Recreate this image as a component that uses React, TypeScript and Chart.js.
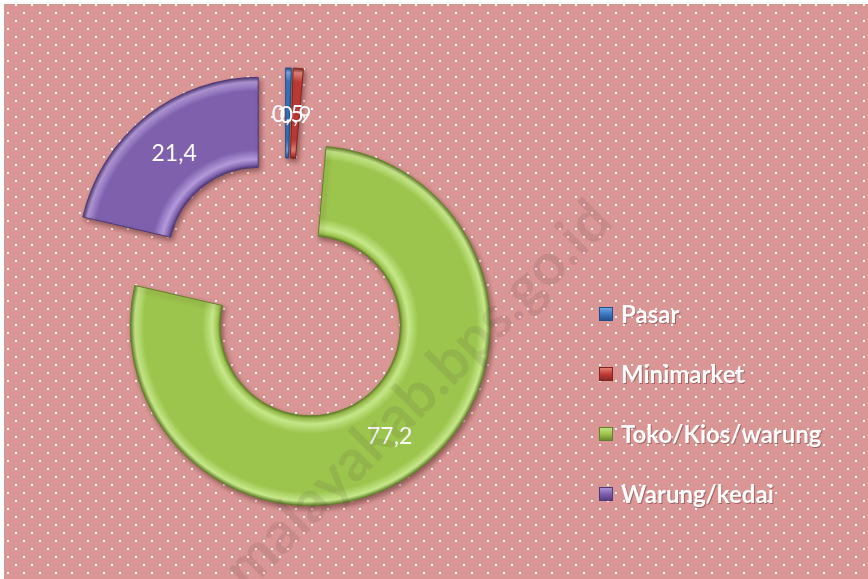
import React, { useEffect, useRef } from "react";
import { Chart, registerables } from "chart.js";

Chart.register(...registerables);

const categories = ["Pasar", "Minimarket", "Toko/Kios/warung", "Warung/kedai"];
const values = [0.5, 0.9, 77.2, 21.4];
const valueLabels = ["0,5", "0,9", "77,2", "21,4"];
const sliceColors = ["#3a77c2", "#c23b35", "#9cc54e", "#7e60ad"];
const lightColors = ["#7fb0ea", "#e98882", "#c6e88a", "#b39ada"];
const edgeColors = ["#1f4f8a", "#7e2522", "#62822a", "#4e3a78"];
const watermarkText = "malayakab.bps.go.id";

const BG = "#d99694";
const EXPLODE = 43;

const backgroundPlugin = {
  id: "bgDots",
  beforeDraw(chart: any) {
    const { ctx, width, height } = chart;
    ctx.save();
    ctx.fillStyle = BG;
    ctx.fillRect(0, 0, width, height);
    ctx.fillStyle = "#ffffff";
    let row = 0;
    for (let y = 0; y < height; y += 8, row++) {
      const start = row % 2 === 0 ? 11 : 3;
      for (let x = start; x < width; x += 16) {
        ctx.fillRect(x, y, 2, 2);
      }
    }
    ctx.restore();
  },
};

const explodePlugin = {
  id: "explodeSlices",
  beforeDatasetDraw(chart: any, args: any) {
    const ctx = chart.ctx;
    const meta = args.meta;
    meta.data.forEach((arc: any) => {
      const h = (arc.startAngle + arc.endAngle) / 2;
      ctx.save();
      ctx.shadowColor = "rgba(60,20,20,0.45)";
      ctx.shadowBlur = 5;
      ctx.shadowOffsetX = 2;
      ctx.shadowOffsetY = 3;
      ctx.translate(Math.cos(h) * EXPLODE, Math.sin(h) * EXPLODE);
      arc.draw(ctx);
      ctx.restore();
    });
    return false;
  },
  afterDatasetsDraw(chart: any) {
    const ctx = chart.ctx;
    const meta = chart.getDatasetMeta(0);
    ctx.save();
    ctx.font = "23px Lato, 'Open Sans', sans-serif";
    ctx.fillStyle = "#ffffff";
    ctx.textAlign = "center";
    ctx.textBaseline = "middle";
    meta.data.forEach((arc: any, i: number) => {
      const h = (arc.startAngle + arc.endAngle) / 2;
      const r = EXPLODE + (arc.innerRadius + arc.outerRadius) / 2;
      ctx.fillText(valueLabels[i], arc.x + Math.cos(h) * r, arc.y + Math.sin(h) * r + 2);
    });
    ctx.restore();

    // legend
    ctx.save();
    const lx = 595;
    const ly = 303;
    const gap = 60;
    categories.forEach((label, i) => {
      const by = ly + i * gap;
      const g = ctx.createLinearGradient(0, by, 0, by + 14);
      g.addColorStop(0, lightColors[i]);
      g.addColorStop(0.5, sliceColors[i]);
      g.addColorStop(1, edgeColors[i]);
      ctx.fillStyle = g;
      ctx.fillRect(lx, by, 14, 14);
      ctx.strokeStyle = edgeColors[i];
      ctx.lineWidth = 1;
      ctx.strokeRect(lx + 0.5, by + 0.5, 13, 13);
      ctx.font = "bold 24px Lato, 'Open Sans', sans-serif";
      ctx.textAlign = "left";
      ctx.textBaseline = "middle";
      ctx.fillStyle = "rgba(90,40,40,0.45)";
      ctx.fillText(label, lx + 23, by + 9);
      ctx.fillStyle = "#ffffff";
      ctx.fillText(label, lx + 22, by + 8);
    });
    ctx.restore();
  },
  afterDraw(chart: any) {
    const ctx = chart.ctx;
    ctx.save();
    ctx.translate(414, 391);
    ctx.rotate(-Math.PI / 4);
    ctx.font = "bold 50px Lato, 'Open Sans', sans-serif";
    const w = ctx.measureText(watermarkText).width;
    const scale = 520 / w;
    ctx.scale(scale, scale);
    ctx.textAlign = "center";
    ctx.textBaseline = "middle";
    ctx.fillStyle = "rgba(70,60,60,0.12)";
    ctx.fillText(watermarkText, 0, 0);
    ctx.restore();
  },
};

export default function App() {
  const canvasRef = useRef<HTMLCanvasElement | null>(null);

  useEffect(() => {
    const canvas = canvasRef.current;
    if (!canvas) return;
    const chart = new Chart(canvas, {
      type: "doughnut",
      data: {
        labels: categories,
        datasets: [
          {
            data: values,
            borderWidth: 1,
            borderColor: edgeColors,
            backgroundColor: (c: any) => {
              const i = c.dataIndex;
              const area = c.chart.chartArea;
              if (!area || i === undefined) return sliceColors[i ?? 0];
              const cx = (area.left + area.right) / 2;
              const cy = (area.top + area.bottom) / 2;
              const g = c.chart.ctx.createRadialGradient(cx, cy, 90, cx, cy, 180);
              g.addColorStop(0, edgeColors[i]);
              g.addColorStop(0.03, sliceColors[i]);
              g.addColorStop(0.09, lightColors[i]);
              g.addColorStop(0.2, sliceColors[i]);
              g.addColorStop(0.85, sliceColors[i]);
              g.addColorStop(0.95, lightColors[i]);
              g.addColorStop(1, edgeColors[i]);
              return g;
            },
          } as any,
        ],
      },
      options: {
        animation: false,
        responsive: false,
        maintainAspectRatio: false,
        radius: 180,
        cutout: "50%",
        events: [],
        layout: { padding: { left: 0, right: 302, top: 0, bottom: 1 } },
        plugins: {
          legend: { display: false },
          tooltip: { enabled: false },
        },
      } as any,
      plugins: [backgroundPlugin, explodePlugin],
    });
    return () => chart.destroy();
  }, []);

  return (
    <div style={{ position: "absolute", left: 4, top: 4, width: 864, height: 575 }}>
      <canvas ref={canvasRef} width={864} height={575} style={{ display: "block" }} />
    </div>
  );
}
